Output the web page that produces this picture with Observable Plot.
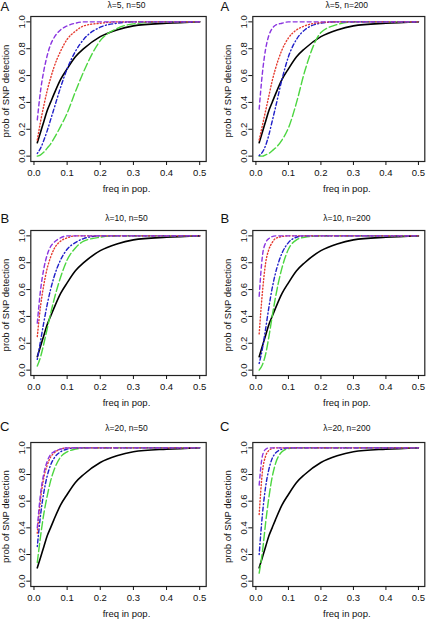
<!DOCTYPE html>
<html><head><meta charset="utf-8">
<script src="https://cdn.jsdelivr.net/npm/d3@7"></script>
<script src="https://cdn.jsdelivr.net/npm/@observablehq/plot@0.6"></script>
<style>
body{margin:0;background:#fff;}
#chart{position:relative;width:429px;height:619px;overflow:hidden;background:#fff;}
#chart svg{position:absolute;overflow:visible;}
</style></head><body><div id="chart"></div>
<script>
// ---- data ----
const freq = [0.01,0.02,0.03,0.04,0.05,0.06,0.08,0.1,0.125,0.15,0.2,0.25,0.3,0.4,0.5];
const xTicks = [0,0.1,0.2,0.3,0.4,0.5];
const yTicks = [0,0.2,0.4,0.6,0.8,1.0];
const panelLetters = ["A","A","B","B","C","C"];
const panelTitles = ["λ=5, n=50","λ=5, n=200","λ=10, n=50","λ=10, n=200","λ=20, n=50","λ=20, n=200"];
const xLabel = "freq in pop.";
const yLabel = "prob of SNP detection";

const black = [0.10,0.18,0.26,0.34,0.40,0.46,0.57,0.65,0.74,0.80,0.89,0.94,0.97,0.99,1.0];

const a50Green  = [0.00,0.01,0.03,0.06,0.09,0.13,0.22,0.32,0.48,0.63,0.86,0.95,0.985,1.0,1.0];
const a50Navy   = [0.02,0.06,0.12,0.19,0.27,0.35,0.51,0.65,0.78,0.87,0.96,0.99,1.0,1.0,1.0];
const a50Red    = [0.12,0.26,0.38,0.49,0.58,0.66,0.78,0.87,0.93,0.97,0.99,1.0,1.0,1.0,1.0];
const a50Purple = [0.27,0.49,0.64,0.75,0.83,0.88,0.94,0.97,0.99,1.0,1.0,1.0,1.0,1.0,1.0];

const a200Green  = [0.00,0.00,0.01,0.02,0.04,0.06,0.12,0.21,0.40,0.63,0.92,0.98,1.0,1.0,1.0];
const a200Navy   = [0.005,0.03,0.08,0.16,0.26,0.36,0.57,0.74,0.87,0.94,0.99,1.0,1.0,1.0,1.0];
const a200Red    = [0.12,0.23,0.34,0.45,0.56,0.65,0.79,0.88,0.94,0.97,0.995,1.0,1.0,1.0,1.0];
const a200Purple = [0.35,0.62,0.80,0.90,0.95,0.975,0.99,1.0,1.0,1.0,1.0,1.0,1.0,1.0,1.0];

const b50Green  = [0.03,0.10,0.20,0.31,0.42,0.52,0.69,0.82,0.91,0.96,0.99,1.0,1.0,1.0,1.0];
const b50Navy   = [0.08,0.22,0.36,0.49,0.60,0.69,0.82,0.90,0.95,0.98,1.0,1.0,1.0,1.0,1.0];
const b50Red    = [0.25,0.48,0.64,0.76,0.84,0.90,0.96,0.985,1.0,1.0,1.0,1.0,1.0,1.0,1.0];
const b50Purple = [0.35,0.60,0.76,0.86,0.92,0.95,0.985,1.0,1.0,1.0,1.0,1.0,1.0,1.0,1.0];

const b200Green  = [0.00,0.04,0.12,0.25,0.40,0.54,0.76,0.90,0.97,0.99,1.0,1.0,1.0,1.0,1.0];
const b200Navy   = [0.05,0.16,0.31,0.47,0.61,0.72,0.87,0.95,0.99,1.0,1.0,1.0,1.0,1.0,1.0];
const b200Red    = [0.27,0.58,0.80,0.90,0.95,0.98,0.995,1.0,1.0,1.0,1.0,1.0,1.0,1.0,1.0];
const b200Purple = [0.55,0.85,0.95,0.98,0.995,1.0,1.0,1.0,1.0,1.0,1.0,1.0,1.0,1.0,1.0];

const c50Green  = [0.14,0.34,0.51,0.64,0.75,0.83,0.93,0.97,0.99,1.0,1.0,1.0,1.0,1.0,1.0];
const c50Navy   = [0.26,0.50,0.67,0.79,0.87,0.92,0.97,0.99,1.0,1.0,1.0,1.0,1.0,1.0,1.0];
const c50Red    = [0.36,0.62,0.78,0.87,0.93,0.96,0.99,1.0,1.0,1.0,1.0,1.0,1.0,1.0,1.0];
const c50Purple = [0.40,0.66,0.81,0.90,0.95,0.97,0.99,1.0,1.0,1.0,1.0,1.0,1.0,1.0,1.0];

const c200Green  = [0.06,0.22,0.44,0.63,0.78,0.88,0.97,0.995,1.0,1.0,1.0,1.0,1.0,1.0,1.0];
const c200Navy   = [0.20,0.50,0.71,0.84,0.92,0.96,0.99,1.0,1.0,1.0,1.0,1.0,1.0,1.0,1.0];
const c200Red    = [0.50,0.82,0.94,0.98,0.995,1.0,1.0,1.0,1.0,1.0,1.0,1.0,1.0,1.0,1.0];
const c200Purple = [0.72,0.94,0.99,1.0,1.0,1.0,1.0,1.0,1.0,1.0,1.0,1.0,1.0,1.0,1.0];

const panelSeries = [
  [black, a50Green, a50Navy, a50Red, a50Purple],
  [black, a200Green, a200Navy, a200Red, a200Purple],
  [black, b50Green, b50Navy, b50Red, b50Purple],
  [black, b200Green, b200Navy, b200Red, b200Purple],
  [black, c50Green, c50Navy, c50Red, c50Purple],
  [black, c200Green, c200Navy, c200Red, c200Purple]
];

// ---- styles ----
const colors = ["#000000","#4cd640","#1f1fc8","#e53b2f","#8a35e0"];
const widths = [1.6,1.4,1.4,1.4,1.4];
const dashes = [null,"8,3","1,2.5,4,2.5","1,2.2","4,3"];
const font = "'Liberation Sans', Arial, Helvetica, sans-serif";

// ---- layout ----
const cols = [
  {left:0, w:214, mL:30.3, mR:8.3, letterDx:-26},
  {left:214, w:215, mL:38.3, mR:4.7, letterDx:-28}
];
const rows = [
  {top:0, h:205, mT:16, mB:44, titleDy:-11, letterDy:-9.5},
  {top:205, h:205, mT:25, mB:35, titleDy:-12, letterDy:-12},
  {top:410, h:209, mT:32, mB:33, titleDy:-14, letterDy:-16}
];

const chart = document.getElementById("chart");
const fmt = d3.format(".1f");

panelSeries.forEach((series, i) => {
  const c = cols[i % 2], r = rows[Math.floor(i / 2)];
  const lines = series.map((vals, k) =>
    Plot.line(freq.map((f, j) => ({f, p: vals[j]})), {
      x: "f", y: "p", stroke: colors[k], strokeWidth: widths[k],
      strokeDasharray: dashes[k], curve: "monotone-x"
    })
  );
  const svg = Plot.plot({
    width: c.w, height: r.h,
    marginLeft: c.mL, marginRight: c.mR, marginTop: r.mT, marginBottom: r.mB,
    x: {domain: [-0.0096, 0.5196]},
    y: {domain: [-0.04, 1.04]},
    style: {fontFamily: font, fontSize: "9.5px", color: "#111", background: "transparent"},
    marks: [
      ...lines,
      Plot.frame({stroke: "#222", strokeWidth: 1.2}),
      Plot.axisX({ticks: xTicks, tickSize: 4, tickPadding: 4, tickFormat: fmt, label: null}),
      Plot.axisY({ticks: yTicks, tickSize: 4, tickPadding: 2, tickRotate: -90, tickFormat: fmt, label: null}),
      Plot.text([panelTitles[i]], {frameAnchor: "top", dx: 8, dy: r.titleDy, lineAnchor: "middle", textAnchor: "middle", fontSize: 8.5}),
      Plot.text([xLabel], {frameAnchor: "bottom", dx: 8, dy: 27, lineAnchor: "middle", textAnchor: "middle", fontSize: 9.5}),
      Plot.text([yLabel], {frameAnchor: "left", dx: -25, dy: 2, rotate: -90, lineAnchor: "middle", textAnchor: "middle", fontSize: 9.5}),
      Plot.text([panelLetters[i]], {frameAnchor: "top-left", dx: c.letterDx, dy: r.letterDy, lineAnchor: "middle", textAnchor: "middle", fontSize: 13})
    ]
  });
  svg.style.left = c.left + "px";
  svg.style.top = r.top + "px";
  chart.appendChild(svg);
});
</script>
</body></html>
